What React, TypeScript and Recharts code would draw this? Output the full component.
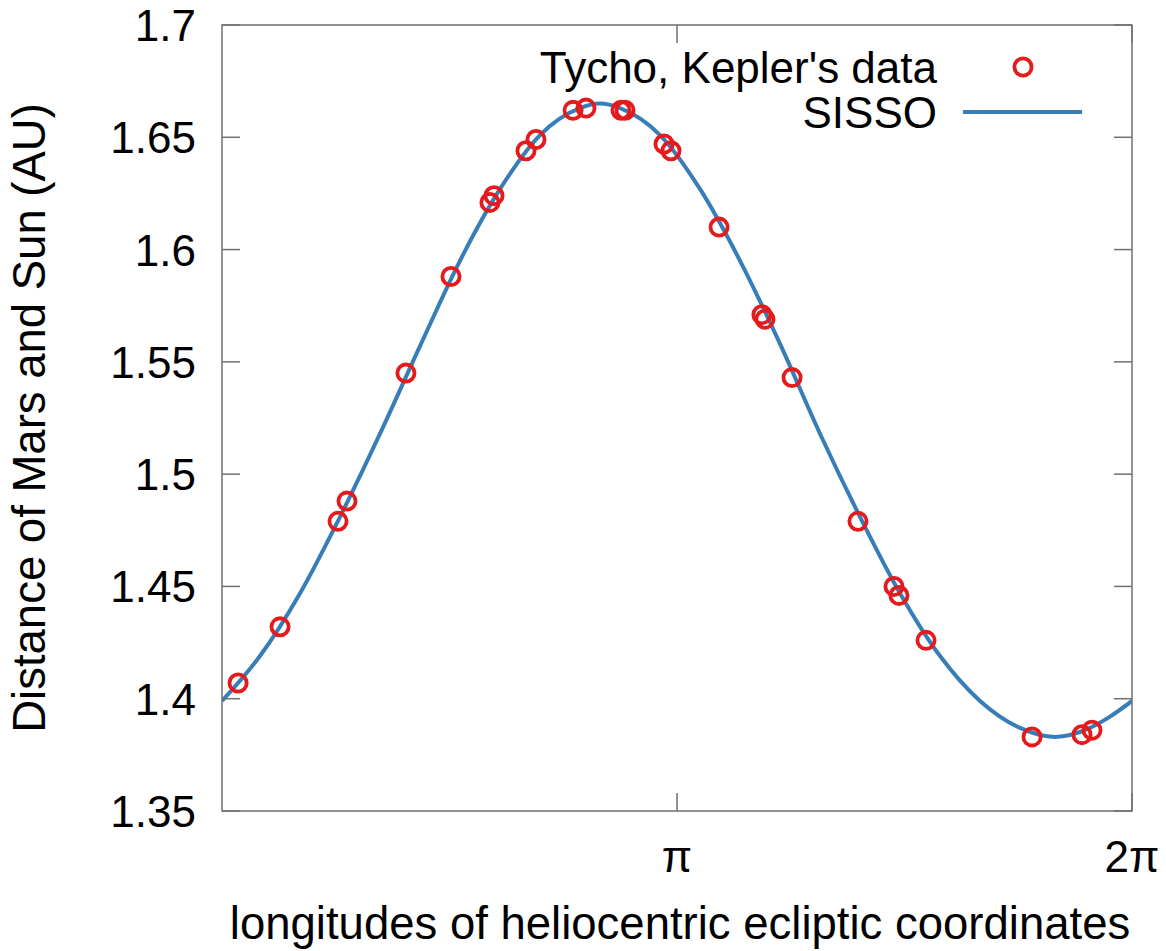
import { ComposedChart, Scatter, Line, XAxis, YAxis, ReferenceArea, Legend } from "recharts";

// Tycho / Kepler observations: heliocentric longitude (rad) vs distance (AU)
const obsAngle = [
  0.111, 0.401, 0.801, 0.863, 1.270, 1.581, 1.850, 1.878, 2.099, 2.168, 2.424, 2.513, 2.755, 2.783,
  3.052, 3.100, 3.432, 3.728, 3.749, 3.936, 4.391, 4.640, 4.674, 4.861, 5.593, 5.938, 6.007,
];
const obsDist = [
  1.407, 1.432, 1.479, 1.488, 1.545, 1.588, 1.621, 1.624, 1.644, 1.649, 1.662, 1.663, 1.662, 1.662,
  1.647, 1.644, 1.610, 1.571, 1.569, 1.543, 1.479, 1.450, 1.446, 1.426, 1.383, 1.384, 1.386,
];

// SISSO fit curve
const fitAngle = [
  0, 0.262, 0.539, 0.815, 1.091, 1.367, 1.643, 1.920, 2.196, 2.472, 2.610, 2.748, 3.024, 3.300,
  3.577, 3.853, 4.129, 4.405, 4.681, 4.958, 5.234, 5.510, 5.752, 5.993, 6.131, 6.283,
];
const fitDist = [
  1.399, 1.419, 1.447, 1.481, 1.518, 1.557, 1.595, 1.627, 1.651, 1.663, 1.665, 1.663, 1.651, 1.627,
  1.595, 1.558, 1.518, 1.481, 1.447, 1.419, 1.399, 1.387, 1.383, 1.387, 1.392, 1.399,
];

const yTicks = [1.35, 1.4, 1.45, 1.5, 1.55, 1.6, 1.65, 1.7];
const xTicks = [Math.PI, 2 * Math.PI];
const xTickLabels = ["π", "2π"];

const FONT = "'Liberation Sans', Arial, Helvetica, sans-serif";
const RED = "#e41a1c";
const BLUE = "#377eb8";
const FRAME = "#707070";

const PLOT_L = 222;
const PLOT_R = 1132;
const PLOT_T = 25;
const PLOT_B = 811;

const obs = obsAngle.map((x, i) => ({ x, y: obsDist[i] }));
const fit = fitAngle.map((x, i) => ({ x, y: fitDist[i] }));

function YTick(props: any) {
  const { y, payload } = props;
  return (
    <g>
      <line x1={PLOT_L} x2={PLOT_L + 18} y1={y} y2={y} stroke={FRAME} strokeWidth={1.5} />
      <line x1={PLOT_R - 18} x2={PLOT_R} y1={y} y2={y} stroke={FRAME} strokeWidth={1.5} />
      <text x={PLOT_L - 26} y={y + 16} textAnchor="end" fontFamily={FONT} fontSize={44} fill="#000">
        {String(payload.value)}
      </text>
    </g>
  );
}

function XTick(props: any) {
  const { x, payload, index } = props;
  return (
    <g>
      <line x1={x} x2={x} y1={PLOT_B} y2={PLOT_B - 18} stroke={FRAME} strokeWidth={1.5} />
      <line x1={x} x2={x} y1={PLOT_T} y2={PLOT_T + 18} stroke={FRAME} strokeWidth={1.5} />
      <text x={x} y={PLOT_B + 61} textAnchor="middle" fontFamily={FONT} fontSize={44} fill="#000">
        {xTickLabels[index] ?? String(payload.value)}
      </text>
    </g>
  );
}

function Ring(props: any) {
  const { cx, cy } = props;
  return <circle cx={cx} cy={cy} r={8.6} fill="none" stroke={RED} strokeWidth={3.8} />;
}

function LegendBox() {
  return (
    <svg width={640} height={110} style={{ overflow: "visible" }}>
      <text x={457} y={53} textAnchor="end" fontFamily={FONT} fontSize={44} fill="#000">
        Tycho, Kepler's data
      </text>
      <circle cx={543} cy={37} r={8.6} fill="none" stroke={RED} strokeWidth={3.8} />
      <text x={457} y={98} textAnchor="end" fontFamily={FONT} fontSize={44} fill="#000">
        SISSO
      </text>
      <line x1={483} x2={602} y1={82} y2={82} stroke={BLUE} strokeWidth={4} />
    </svg>
  );
}

export default function App() {
  return (
    <div style={{ position: "absolute", left: 0, top: 0, width: 1166, height: 951, background: "#fff" }}>
      <ComposedChart
        width={1166}
        height={951}
        margin={{ top: PLOT_T, right: 1166 - PLOT_R, bottom: 0, left: 0 }}
      >
        <XAxis
          type="number"
          dataKey="x"
          domain={[0, 2 * Math.PI]}
          ticks={xTicks}
          interval={0}
          height={951 - PLOT_B}
          axisLine={false}
          tickLine={false}
          tick={<XTick />}
          allowDataOverflow
        />
        <YAxis
          type="number"
          domain={[1.35, 1.7]}
          ticks={yTicks}
          interval={0}
          width={PLOT_L}
          axisLine={false}
          tickLine={false}
          tick={<YTick />}
          allowDataOverflow
        />
        <ReferenceArea
          x1={0}
          x2={2 * Math.PI}
          y1={1.35}
          y2={1.7}
          fill="none"
          stroke={FRAME}
          strokeWidth={1.5}
          fillOpacity={0}
        />
        <Scatter
          name="Tycho, Kepler's data"
          data={obs}
          dataKey="y"
          shape={<Ring />}
          isAnimationActive={false}
        />
        <Line
          name="SISSO"
          data={fit}
          dataKey="y"
          type="monotone"
          stroke={BLUE}
          strokeWidth={4}
          dot={false}
          activeDot={false}
          isAnimationActive={false}
        />
        <Legend
          layout="horizontal"
          verticalAlign="middle"
          align="center"
          content={<LegendBox />}
          wrapperStyle={{ position: "absolute", left: 480, top: 30, width: 640, height: 110 }}
        />
        <text
          x={45}
          y={(PLOT_T + PLOT_B) / 2}
          transform={`rotate(-90, 45, ${(PLOT_T + PLOT_B) / 2})`}
          textAnchor="middle"
          fontFamily={FONT}
          fontSize={45.5}
          fill="#000"
        >
          Distance of Mars and Sun (AU)
        </text>
        <text
          x={(PLOT_L + PLOT_R) / 2 + 3}
          y={939}
          textAnchor="middle"
          fontFamily={FONT}
          fontSize={45.5}
          fill="#000"
        >
          longitudes of heliocentric ecliptic coordinates
        </text>
      </ComposedChart>
    </div>
  );
}
